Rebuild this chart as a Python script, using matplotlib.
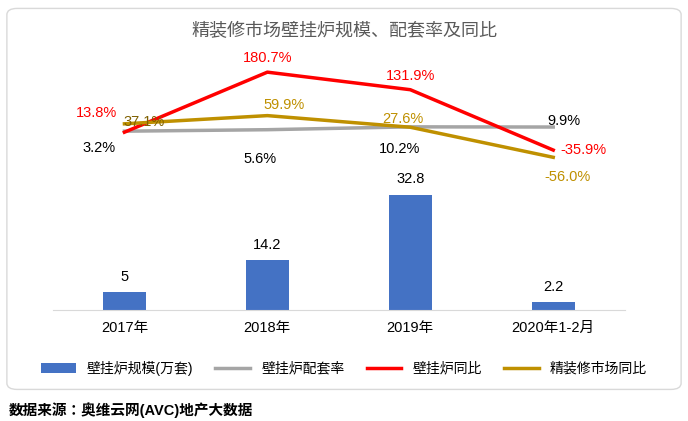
import numpy as np
import matplotlib.pyplot as plt
from matplotlib import font_manager as fm
from matplotlib.patches import FancyBboxPatch

# pick up an installed CJK font as fallback behind an Arial-like font
cjk = [f for f in fm.findSystemFonts() if 'CJK' in f or 'cjk' in f]
for f in cjk:
    fm.fontManager.addfont(f)
names = [fm.FontProperties(fname=f).get_name() for f in cjk]
family = ['Liberation Sans'] + [n for n in names if 'SC' in n] + names + ['DejaVu Sans']
plt.rcParams['font.family'] = family

categories = ['2017年', '2018年', '2019年', '2020年1-2月']
scale = [5, 14.2, 32.8, 2.2]            # 壁挂炉规模(万套)
match_rate = [3.2, 5.6, 10.2, 9.9]      # 壁挂炉配套率 %
boiler_yoy = [13.8, 180.7, 131.9, -35.9]  # 壁挂炉同比 %
decor_yoy = [37.1, 59.9, 27.6, -56.0]     # 精装修市场同比 %

blue = '#4472c4'
gray = '#a5a5a5'
red = '#ff0000'
gold = '#bf9000'

fig = plt.figure(figsize=(6.88, 4.21), dpi=100)
fig.patches.append(FancyBboxPatch((0.01, 0.075), 0.98, 0.905, boxstyle='round,pad=0,rounding_size=0.015',
                                  transform=fig.transFigure, fill=False, ec='#d9d9d9', lw=1))
ax = fig.add_axes([0.077, 0.264, 0.831, 0.617])
x = np.arange(len(categories))

bars = ax.bar(x, scale, width=0.3, color=blue, label='壁挂炉规模(万套)')
for xi, v in zip(x, scale):
    ax.annotate(f'{v:g}', (xi, v), xytext=(0, 6), textcoords='offset points',
                ha='center', va='bottom', fontsize=10.5)
ax.set_ylim(0, 74)
ax.set_xlim(-0.5, 3.5)
ax.set_xticks(x, categories, fontsize=10.5)
ax.set_yticks([])
for s in ['top', 'left', 'right']:
    ax.spines[s].set_visible(False)
ax.spines['bottom'].set_color('#d9d9d9')
ax.tick_params(axis='x', length=0, pad=8)

ax3 = ax.twinx()
ax3.set_ylim(-285, 134)
ax3.axis('off')
l1, = ax3.plot(x, match_rate, color=gray, lw=2.5, label='壁挂炉配套率')

ax2 = ax.twinx()
ax2.set_ylim(-480, 242)
ax2.axis('off')
l2, = ax2.plot(x, boiler_yoy, color=red, lw=2.5, label='壁挂炉同比')
l3, = ax2.plot(x, decor_yoy, color=gold, lw=2.5, label='精装修市场同比')

gray_off = [(-18, -12), (-5, -21), (-8, -16), (8, 4)]
for xi, v, o in zip(x, match_rate, gray_off):
    ax3.annotate(f'{v:.1f}%', (xi, v), xytext=o, textcoords='offset points',
                 ha='center', va='center', fontsize=10.5)
red_off = [(-20, 14), (0, 10), (0, 10), (22, 0)]
for xi, v, o in zip(x, boiler_yoy, red_off):
    ax2.annotate(f'{v:.1f}%', (xi, v), xytext=o, textcoords='offset points',
                 ha='center', va='center', fontsize=10.5, color=red)
gold_off = [(14, 1), (12, 8), (-5, 6), (10, -14)]
for xi, v, o in zip(x, decor_yoy, gold_off):
    ax2.annotate(f'{v:.1f}%', (xi, v), xytext=o, textcoords='offset points',
                 ha='center', va='center', fontsize=10.5, color='#7f6000' if xi == 0 else gold)

fig.legend(handles=[bars, l1, l2, l3], loc='center', bbox_to_anchor=(0.5, 0.125), ncol=4,
           frameon=False, fontsize=10, handlelength=2.5, columnspacing=1.6)
fig.text(0.5, 0.925, '精装修市场壁挂炉规模、配套率及同比', ha='center', va='center',
         fontsize=13, color='#595959')
fig.text(0.012, 0.025, '数据来源：奥维云网(AVC)地产大数据', ha='left', va='center',
         fontsize=10.5, fontweight='bold')

fig.savefig('out.png', dpi=100)
